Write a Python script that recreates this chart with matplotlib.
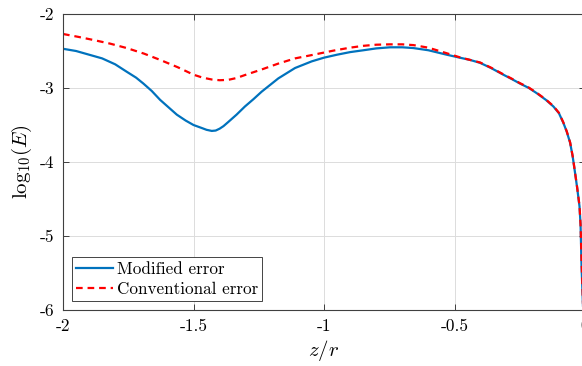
import matplotlib
matplotlib.use('Agg')
from matplotlib import pyplot as plt

plt.rcParams['font.family'] = 'serif'
plt.rcParams['font.serif'] = ['cmr10']
plt.rcParams['mathtext.fontset'] = 'cm'

# values
x_mod = [-2.0, -1.95, -1.9, -1.85, -1.8, -1.756, -1.72, -1.692, -1.66, -1.628,
         -1.596, -1.564, -1.53, -1.50, -1.465, -1.45, -1.43, -1.415, -1.40,
         -1.385, -1.367, -1.335,
         -1.303, -1.27, -1.239, -1.207, -1.175, -1.143, -1.111, -1.079, -1.047,
         -1.0, -0.95, -0.9, -0.849, -0.8, -0.747, -0.7, -0.658, -0.6, -0.53,
         -0.48, -0.441, -0.402, -0.36, -0.313, -0.28, -0.249, -0.215, -0.185,
         -0.15, -0.121, -0.1, -0.083, -0.07, -0.057, -0.047, -0.038, -0.03,
         -0.021, -0.017, -0.013, -0.005]
y_mod = [-2.47, -2.50, -2.55, -2.60, -2.68, -2.78, -2.86, -2.94, -3.04, -3.16,
         -3.26, -3.36, -3.44, -3.50, -3.545, -3.565, -3.58, -3.575, -3.55,
         -3.515, -3.46, -3.36,
         -3.25, -3.15, -3.05, -2.96, -2.87, -2.80, -2.73, -2.685, -2.64,
         -2.59, -2.55, -2.515, -2.49, -2.465, -2.45, -2.45, -2.46, -2.49, -2.55,
         -2.59, -2.62, -2.66, -2.73, -2.82, -2.88, -2.94, -3.00, -3.07,
         -3.16, -3.25, -3.34, -3.47, -3.59, -3.74, -3.93, -4.15, -4.35,
         -4.60, -4.85, -5.43, -6.2]

x_conv = [-2.0, -1.94, -1.885, -1.82, -1.756, -1.69, -1.628, -1.56, -1.50,
          -1.465, -1.43, -1.40, -1.367, -1.335, -1.303, -1.239, -1.175, -1.111,
          -1.047, -0.964, -0.9, -0.849, -0.8, -0.747, -0.7, -0.658, -0.6, -0.53,
          -0.48, -0.441, -0.402, -0.36, -0.313, -0.28, -0.249, -0.215, -0.185,
          -0.15, -0.121, -0.1, -0.083, -0.07, -0.057, -0.047, -0.038, -0.03,
          -0.021, -0.017, -0.013, -0.005]
y_conv = [-2.27, -2.31, -2.35, -2.40, -2.46, -2.535, -2.62, -2.72, -2.82,
          -2.86, -2.885, -2.895, -2.89, -2.865, -2.825, -2.75, -2.67, -2.60,
          -2.555, -2.495, -2.455, -2.43, -2.415, -2.41, -2.41, -2.42, -2.455, -2.53,
          -2.585, -2.62, -2.655, -2.725, -2.815, -2.875, -2.935, -2.995, -3.065,
          -3.155, -3.245, -3.335, -3.465, -3.585, -3.735, -3.925, -4.145, -4.345,
          -4.595, -4.845, -5.35, -6.2]

xticks = [-2, -1.5, -1, -0.5, 0]
xtick_labels = ['-2', '-1.5', '-1', '-0.5', '0']
yticks = [-6, -5, -4, -3, -2]
ytick_labels = ['-6', '-5', '-4', '-3', '-2']

fig = plt.figure(figsize=(5.82, 3.66), dpi=100)
ax = fig.add_axes([63 / 582, 1 - 310 / 366, 522 / 582, 296 / 366])

ax.plot(x_mod, y_mod, color=(0, 0.447, 0.741), lw=1.6, label='Modified error')
ax.plot(x_conv, y_conv, color='red', lw=1.6, ls=(0, (3, 2.2)), label='Conventional error')

ax.set_xlim(-2, 0)
ax.set_ylim(-6, -2)
ax.set_xticks(xticks)
ax.set_xticklabels(xtick_labels, fontsize=12.5)
ax.set_yticks(yticks)
ax.set_yticklabels(ytick_labels, fontsize=12.5)
ax.tick_params(direction='in', length=4, width=0.6, color='#262626',
               top=True, right=True, pad=6)
ax.grid(True, color='#dcdcdc', lw=0.7)
ax.set_axisbelow(True)
for s in ax.spines.values():
    s.set_color('#404040')
    s.set_linewidth(0.8)

ax.set_xlabel(r'$z/r$', fontsize=15, labelpad=3)
ax.set_ylabel(r'$\mathrm{log}_{10}(E)$', fontsize=15, labelpad=4)

leg = ax.legend(loc='lower left', fontsize=12.3, fancybox=False, framealpha=1,
                edgecolor='#262626', borderaxespad=0.5, borderpad=0.25,
                handlelength=2.2, handletextpad=0.2, labelspacing=0.3)
leg.get_frame().set_linewidth(0.6)

fig.savefig('out.png', dpi=100)
